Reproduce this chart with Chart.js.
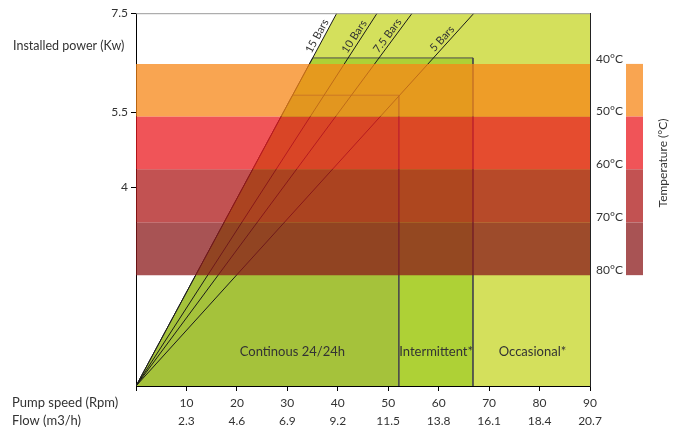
<!DOCTYPE html>
<html>
<head>
<meta charset="utf-8">
<script src="https://cdn.jsdelivr.net/npm/chart.js@4.4.1/dist/chart.umd.min.js"></script>
<style>
  body{margin:0;background:#fff}
  #wrap{width:683px;height:430px}
</style>
</head>
<body>
<div id="wrap"><canvas id="powerChart"></canvas></div>
<script>
/* <><><> data <><><> */
// pump speed ticks (rpm) and the flow under each one (m3/h)
let speedTicks = [10, 20, 30, 40, 50, 60, 70, 80, 90]
let flowTicks = ['2.3', '4.6', '6.9', '9.2', '11.5', '13.8', '16.1', '18.4', '20.7']
let powerTicks = [7.5, 5.5, 4]

// pressure lines, speed where each one reaches 7.5 Kw
let pressureNames = ['15 Bars', '10 Bars', '7.5 Bars', '5 Bars']
let pressureTopSpeed = [39.8, 47.8, 54.75, 67.0]

// working zones, speed limit and power limit
let zoneNames = ['Continous 24/24h', 'Intermittent*', 'Occasional*']
let zoneSpeed = [52.1, 66.8, 90]
let zonePower = [5.85, 6.6, 7.5]

// temperature bands, limits in Kw
let tempNames = ['40°C', '50°C', '60°C', '70°C', '80°C']
let tempLimits = [6.48, 5.42, 4.36, 3.29, 2.23]

/* <><><> styles <><><> */
let zoneColors = ['#a5c23b', '#aed136', '#d4e05c']
let bandColors = ['rgba(247,135,23,0.75)', 'rgba(235,27,32,0.75)', 'rgba(174,24,24,0.75)', 'rgba(139,26,27,0.75)']
let swatchColors = ['#f9a551', '#f05458', '#c25252', '#a85354']
let font = 'Lato'

let datasets = []

// temperature bands on top of everything
for (let i = 0; i < 4; i++) {
    datasets.push({
        data: [{x: 0, y: tempLimits[i]}, {x: 90, y: tempLimits[i]}],
        fill: {value: tempLimits[i + 1]},
        backgroundColor: bandColors[i],
        borderWidth: 0,
        pointRadius: 0,
        order: 0
    })
}

pressureNames.forEach((name, i) => {
    datasets.push({
        data: [{x: 0, y: 0}, {x: pressureTopSpeed[i], y: 7.5}],
        borderColor: '#1a1a1a',
        borderWidth: 1,
        pointRadius: 0,
        fill: false,
        order: 1
    })
})

zoneNames.forEach((name, i) => {
    let p = zonePower[i]
    let s = zoneSpeed[i]
    let edge = pressureTopSpeed[0] * p / 7.5   // left side follows the 15 Bars line
    datasets.push({
        data: [{x: 0, y: 0}, {x: edge, y: p}, {x: s, y: p}, {x: s, y: 0}],
        fill: 'origin',
        backgroundColor: zoneColors[i],
        borderColor: i < 2 ? '#4d4d4d' : 'rgba(0,0,0,0)',
        borderWidth: i < 2 ? 1 : 0,
        pointRadius: 0,
        order: 2 + i
    })
})

/* <><><> extra texts and legend <><><> */
let decorations = {
    id: 'decorations',
    afterDraw(chart) {
        let {ctx, chartArea: a, scales: {x, y}} = chart
        ctx.save()

        ctx.strokeStyle = '#9a9a9a'
        ctx.lineWidth = 1
        ctx.beginPath()
        ctx.moveTo(a.left, a.top + 0.5)
        ctx.lineTo(a.right, a.top + 0.5)
        ctx.stroke()

        for (let i = 0; i < 4; i++) {
            let top = y.getPixelForValue(tempLimits[i])
            let bot = y.getPixelForValue(tempLimits[i + 1])
            ctx.fillStyle = swatchColors[i]
            ctx.fillRect(626, top, 17, bot - top)
        }

        ctx.fillStyle = '#333'
        ctx.textAlign = 'left'
        ctx.textBaseline = 'middle'
        ctx.font = '12.5px ' + font
        ctx.fillText('Installed power (Kw)', 13, 46)
        ctx.font = '13px ' + font
        ctx.fillText('Pump speed (Rpm)', 12, 403)
        ctx.fillText('Flow (m3/h)', 12, 421)

        ctx.font = '12px ' + font
        ctx.save()
        ctx.translate(663, 163)
        ctx.rotate(-Math.PI / 2)
        ctx.textAlign = 'center'
        ctx.fillText('Temperature (°C)', 0, 0)
        ctx.restore()

        ctx.font = '13px ' + font
        ctx.textAlign = 'center'
        let zoneLabelX = [31, 59.5, 78.6]
        zoneNames.forEach((name, i) => {
            ctx.fillText(name, x.getPixelForValue(zoneLabelX[i]), y.getPixelForValue(0.68))
        })

        ctx.font = '11px ' + font
        ctx.textBaseline = 'bottom'
        let labelPower = [6.98, 6.96, 6.97, 6.9]
        let x0 = x.getPixelForValue(0)
        let y0 = y.getPixelForValue(0)
        pressureNames.forEach((name, i) => {
            let ang = Math.atan2(y.getPixelForValue(7.5) - y0, x.getPixelForValue(pressureTopSpeed[i]) - x0)
            let v = labelPower[i]
            ctx.save()
            ctx.translate(x.getPixelForValue(pressureTopSpeed[i] * v / 7.5), y.getPixelForValue(v))
            ctx.rotate(ang)
            ctx.fillText(name, 0, -1)
            ctx.restore()
        })
        ctx.restore()
    }
}

new Chart(document.getElementById('powerChart'), {
    type: 'line',
    data: {datasets: datasets},
    plugins: [decorations],
    options: {
        responsive: true,
        maintainAspectRatio: false,
        animation: false,
        layout: {padding: {top: 12, left: 0, right: 0, bottom: 0}},
        plugins: {legend: {display: false}, tooltip: {enabled: false}},
        elements: {line: {tension: 0}},
        scales: {
            x: {
                type: 'linear', min: 0, max: 90,
                afterBuildTicks: s => { s.ticks = [0, ...speedTicks].map(v => ({value: v})) },
                afterFit: s => { s.height = 44 },
                ticks: {
                    color: '#333', padding: 3, maxRotation: 0, autoSkip: false,
                    font: {family: font, size: 12, lineHeight: 1.5},
                    callback: v => {
                        let i = speedTicks.indexOf(v)
                        return i < 0 ? '' : [String(v), flowTicks[i]]
                    }
                },
                grid: {drawOnChartArea: false, tickLength: 5, color: '#000'},
                border: {color: '#000', width: 1}
            },
            y: {
                min: 0, max: 7.5, position: 'left',
                afterBuildTicks: s => { s.ticks = powerTicks.map(v => ({value: v})) },
                afterFit: s => { s.width = 136 },
                ticks: {color: '#333', padding: 3, font: {family: font, size: 12}, callback: v => String(v)},
                grid: {drawOnChartArea: false, tickLength: 5, color: '#000'},
                border: {color: '#000'}
            },
            y2: {
                min: 0, max: 7.5, position: 'right',
                afterBuildTicks: s => { s.ticks = tempLimits.map(v => ({value: v})) },
                afterFit: s => { s.width = 93 },
                ticks: {
                    color: '#333', padding: 6, labelOffset: -5,
                    font: {family: font, size: 12},
                    callback: v => tempNames[tempLimits.indexOf(v)]
                },
                grid: {display: false, drawTicks: false},
                border: {display: true, color: '#222'}
            }
        }
    }
})
</script>
</body>
</html>
